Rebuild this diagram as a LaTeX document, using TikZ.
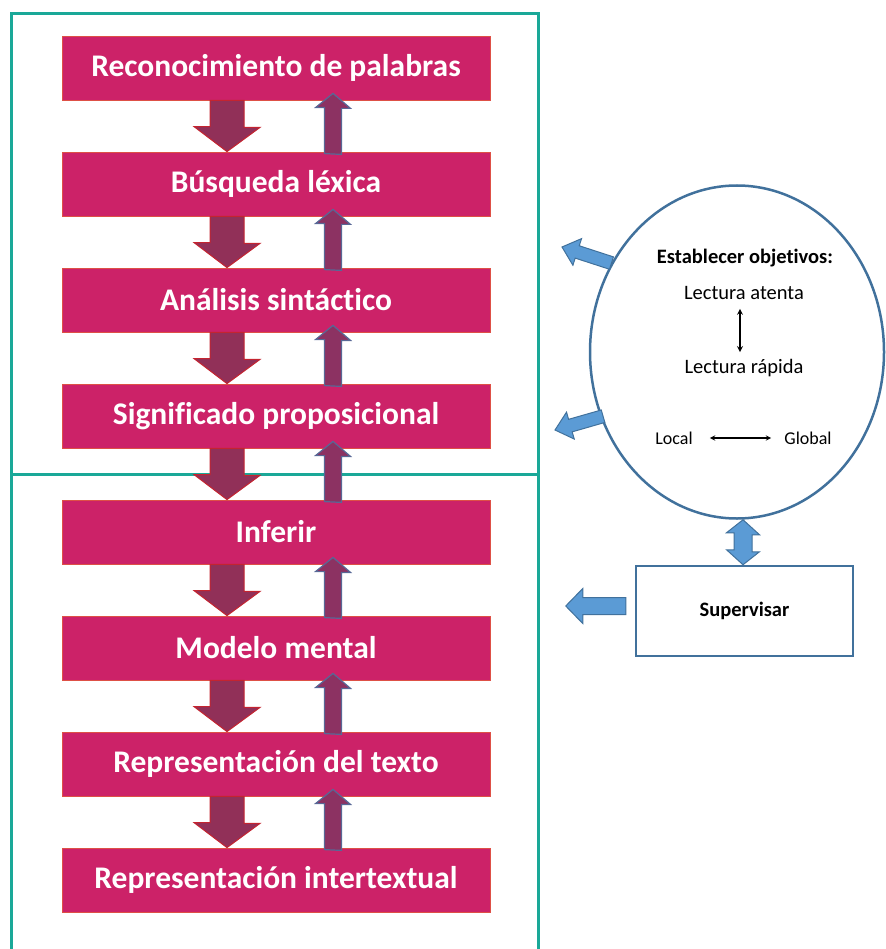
\documentclass[tikz,border=0pt]{standalone}
\usepackage{fontspec}
\setmainfont{Carlito}[Ligatures=NoCommon]
\usetikzlibrary{shapes.geometric,calc}
\definecolor{teal1}{RGB}{26,168,152}
\definecolor{pinkbox}{RGB}{204,34,104}
\definecolor{pinkedge}{RGB}{222,80,70}
\definecolor{darrfill}{RGB}{145,48,88}
\definecolor{darredge}{RGB}{196,36,48}
\definecolor{uarrfill}{RGB}{140,50,98}
\definecolor{uarredge}{RGB}{88,104,150}
\definecolor{bluefill}{RGB}{91,155,213}
\definecolor{blueedge}{RGB}{65,113,156}
\tikzset{
  stage/.style={rectangle, draw=pinkedge, line width=0.8pt, fill=pinkbox, minimum width=428pt, minimum height=64pt, inner sep=0pt, text=white, font=\fontsize{31.5}{36}\selectfont\bfseries},
  darr/.style={fill=darrfill, draw=darredge, line width=1pt, line join=miter},
  uarr/.style={fill=uarrfill, draw=uarredge, line width=1.2pt, line join=miter},
  barr/.style={fill=bluefill, draw=blueedge, line width=1pt, line join=miter},
  frame/.style={draw=teal1, line width=3pt},
  smalltxt/.style={font=\fontsize{20.5}{24}\selectfont, inner sep=1pt},
}
\newcommand{\downblock}[2]{%
  \draw[darr] ($(#1.south)+(-66,0)$) -- ++(34,0) -- ++(0,27) -- ++(16,0)
    -- ($(#2.north)+(-49,0)$) -- ++(-33,-25) -- ++(16,0) -- cycle;}
\newcommand{\upblock}[2]{%
  \draw[uarr] ($(#2.north)+(48.5,2)$) -- ++(0,-46) -- ++(-9,0)
    -- ($(#1.south)+(57,-7)$) -- ++(17.5,15) -- ++(-9,0) -- ++(0,46) -- cycle;}
\begin{document}
\begin{tikzpicture}[x=1pt,y=-1pt]
\useasboundingbox (0,0) rectangle (885,949);
% frames
\draw[frame] (11,14) rectangle (538,474);
\draw[frame] (11,949) -- (11,474) -- (538,474) -- (538,949);
% stages
\node[stage] (b1) at (276,68) {Reconocimiento de palabras};
\node[stage] (b2) at (276,184) {Búsqueda léxica};
\node[stage] (b3) at (276,300) {Análisis sintáctico};
\node[stage] (b4) at (276,416) {Significado proposicional};
\node[stage] (b5) at (276,532) {Inferir};
\node[stage] (b6) at (276,648) {Modelo mental};
\node[stage] (b7) at (276,764) {Representación del texto};
\node[stage] (b8) at (276,880) {Representación intertextual};
\downblock{b1}{b2}\upblock{b1}{b2}
\downblock{b2}{b3}\upblock{b2}{b3}
\downblock{b3}{b4}\upblock{b3}{b4}
\downblock{b4}{b5}\upblock{b4}{b5}
\downblock{b5}{b6}\upblock{b5}{b6}
\downblock{b6}{b7}\upblock{b6}{b7}
\downblock{b7}{b8}\upblock{b7}{b8}
% ellipse
\node[ellipse, draw=blueedge, line width=2.5pt, minimum width=294pt, minimum height=333pt] (ell) at (737,352) {};
\node[smalltxt, font=\fontsize{20.5}{24}\selectfont\bfseries] (obj) at (745,258) {Establecer objetivos:};
\node[smalltxt] (la) at (744,293) {Lectura atenta};
\node[smalltxt] (lr) at (744,368) {Lectura rápida};
\draw[<->, >=stealth, line width=1.6pt] ($(la.south)+(-4,8)$) -- ($(lr.north)+(-4,-6)$);
\node[smalltxt, font=\fontsize{18}{21}\selectfont] (loc) at (674,438) {Local};
\node[smalltxt, font=\fontsize{18}{21}\selectfont] (glo) at (808,438) {Global};
\draw[<->, >=stealth, line width=1.4pt] ($(loc.east)+(16,0)$) -- ($(glo.west)+(-12,0)$);
% blue arrows from ellipse
\coordinate (t1) at (562,247);
\begin{scope}[shift={(t1)}, rotate=-18]
  \draw[barr] (0,0) -- (16,-14) -- (16,-6.5) -- (52,-6.5) -- (52,6.5) -- (16,6.5) -- (16,14) -- cycle;
\end{scope}
\coordinate (t2) at (555,430);
\begin{scope}[shift={(t2)}, rotate=16]
  \draw[barr] (0,0) -- (16,-14) -- (16,-6.5) -- (50,-6.5) -- (50,6.5) -- (16,6.5) -- (16,14) -- cycle;
\end{scope}
% supervisar
\node[rectangle, draw=blueedge, line width=2.5pt, minimum width=217pt, minimum height=90pt, font=\fontsize{20.5}{24}\selectfont\bfseries] (sup) at (744.5,611) {Supervisar};
\draw[barr] (ell.south) ++(6,0) -- ++(16.5,15) -- ++(-7.5,0) -- ++(0,17) -- ++(7.5,0) -- ($(sup.north)+(-1.5,0)$) -- ++(-16.5,-15) -- ++(7.5,0) -- ++(0,-17) -- ++(-7.5,0) -- cycle;
\draw[barr] ($(sup.west)+(-9,-13.5)$) -- ++(0,17) -- ++(-43,0) -- ++(0,9) -- ++(-17,-17.5) -- ++(17,-17.5) -- ++(0,9) -- cycle;
\end{tikzpicture}
\end{document}
